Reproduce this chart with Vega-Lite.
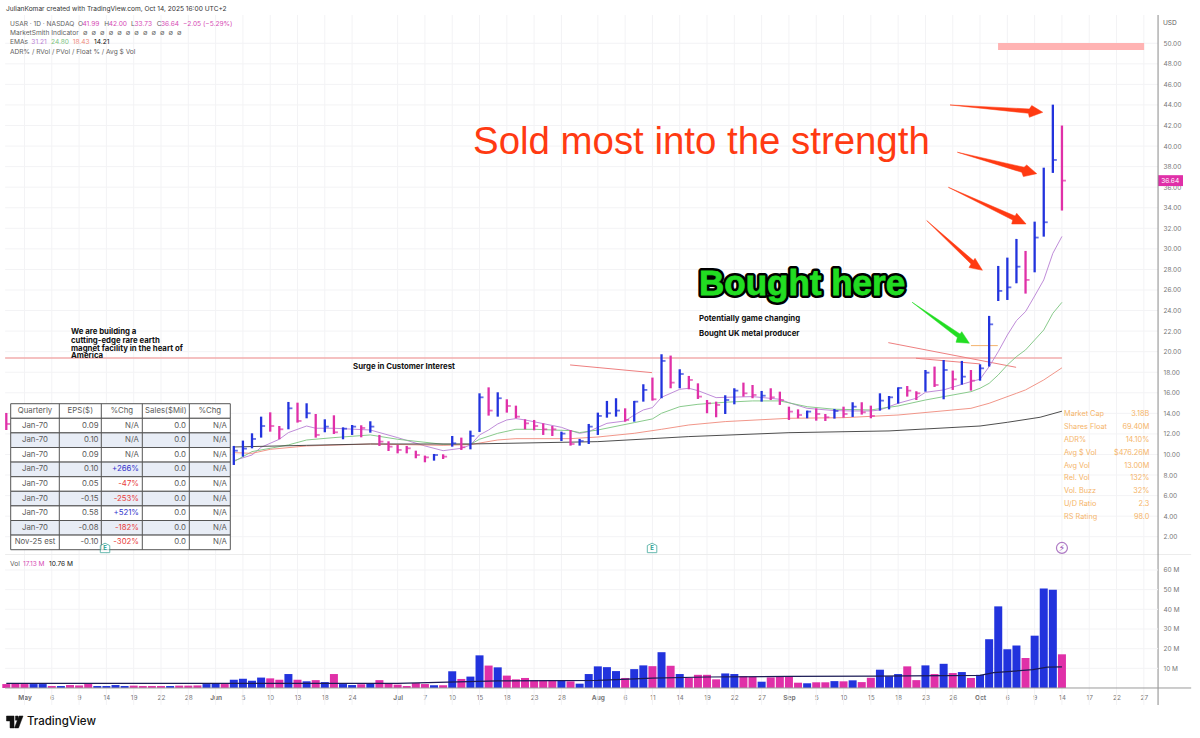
{
"$schema":"https://vega.github.io/schema/vega-lite/v6.json",
"width":1200,"height":738,"padding":0,"autosize":{"type":"none"},"background":"#ffffff",
"config":{"font":"Inter","view":{"stroke":null}},
"datasets":{
"price":[
{"i":-2,"h":14.04,"l":12.38,"c":12.97,"s":"down"},
{"i":23,"h":10.83,"l":8.98,"c":10.37,"s":"up"},{"i":24,"h":11.35,"l":9.79,"c":10.57,"s":"up"},{"i":25,"h":12.06,"l":10.6,"c":11.51,"s":"up"},{"i":26,"h":13.68,"l":11.64,"c":12.77,"s":"up"},{"i":27,"h":14.1,"l":12.22,"c":12.77,"s":"down"},{"i":28,"h":12.77,"l":11.48,"c":12.45,"s":"down"},{"i":29,"h":15.11,"l":12.45,"c":14.49,"s":"up"},{"i":30,"h":15.04,"l":13.1,"c":13.26,"s":"down"},{"i":31,"h":14.98,"l":13.52,"c":14.01,"s":"up"},{"i":32,"h":13.94,"l":11.64,"c":11.9,"s":"down"},{"i":33,"h":13.42,"l":12.16,"c":12.71,"s":"up"},{"i":34,"h":13.81,"l":11.99,"c":12.16,"s":"down"},{"i":35,"h":12.64,"l":11.48,"c":12.51,"s":"up"},{"i":36,"h":12.87,"l":11.9,"c":12.71,"s":"up"},{"i":37,"h":12.84,"l":11.67,"c":12.58,"s":"down"},{"i":38,"h":13.23,"l":12.12,"c":12.71,"s":"up"},{"i":39,"h":11.9,"l":10.83,"c":11.25,"s":"down"},{"i":40,"h":11.28,"l":10.34,"c":10.76,"s":"down"},{"i":41,"h":10.92,"l":10.11,"c":10.44,"s":"down"},{"i":42,"h":10.83,"l":10.11,"c":10.6,"s":"down"},{"i":43,"h":10.37,"l":9.63,"c":9.95,"s":"down"},{"i":44,"h":9.89,"l":9.24,"c":9.72,"s":"down"},{"i":45,"h":10.05,"l":9.4,"c":9.95,"s":"up"},{"i":46,"h":10.02,"l":9.56,"c":9.79,"s":"down"},{"i":47,"h":11.8,"l":10.76,"c":11.09,"s":"up"},{"i":48,"h":11.64,"l":10.44,"c":10.7,"s":"down"},{"i":49,"h":12.32,"l":10.5,"c":11.8,"s":"up"},{"i":50,"h":15.95,"l":12.19,"c":15.56,"s":"up"},{"i":51,"h":16.53,"l":13.78,"c":14.27,"s":"down"},{"i":52,"h":16.05,"l":13.68,"c":15.47,"s":"up"},{"i":53,"h":15.37,"l":14.07,"c":14.72,"s":"down"},{"i":54,"h":14.75,"l":13.52,"c":13.68,"s":"down"},{"i":55,"h":13.42,"l":12.45,"c":13.03,"s":"down"},{"i":56,"h":13.36,"l":12.35,"c":12.77,"s":"down"},{"i":57,"h":13.03,"l":11.9,"c":12.45,"s":"down"},{"i":58,"h":12.77,"l":11.8,"c":12.45,"s":"down"},{"i":59,"h":12.22,"l":11.31,"c":12.03,"s":"up"},{"i":60,"h":12.38,"l":10.86,"c":11.02,"s":"down"},{"i":61,"h":11.51,"l":10.86,"c":11.31,"s":"up"},{"i":62,"h":12.97,"l":11.02,"c":12.71,"s":"up"},{"i":63,"h":14.07,"l":11.9,"c":13.75,"s":"up"},{"i":64,"h":15.21,"l":13.58,"c":14.01,"s":"up"},{"i":65,"h":15.47,"l":13.68,"c":14.27,"s":"up"},{"i":66,"h":14.49,"l":13.19,"c":13.36,"s":"down"},{"i":67,"h":15.21,"l":13.19,"c":15.14,"s":"up"},{"i":68,"h":16.83,"l":15.14,"c":16.28,"s":"up"},{"i":69,"h":17.48,"l":15.24,"c":15.37,"s":"down"},{"i":70,"h":19.75,"l":15.47,"c":19.1,"s":"up"},{"i":71,"h":19.62,"l":16.44,"c":16.99,"s":"down"},{"i":72,"h":18.29,"l":16.44,"c":17.83,"s":"up"},{"i":73,"h":17.64,"l":16.34,"c":17.25,"s":"down"},{"i":74,"h":16.92,"l":15.4,"c":15.63,"s":"down"},{"i":75,"h":15.3,"l":14.01,"c":14.98,"s":"down"},{"i":76,"h":15.14,"l":13.62,"c":14.82,"s":"down"},{"i":77,"h":15.76,"l":13.94,"c":15.3,"s":"up"},{"i":78,"h":16.44,"l":14.88,"c":16.21,"s":"up"},{"i":79,"h":16.99,"l":15.63,"c":15.95,"s":"down"},{"i":80,"h":16.76,"l":15.47,"c":15.79,"s":"down"},{"i":81,"h":16.18,"l":15.14,"c":15.72,"s":"up"},{"i":82,"h":16.44,"l":15.3,"c":15.56,"s":"down"},{"i":83,"h":16.11,"l":14.82,"c":15.3,"s":"down"},{"i":84,"h":14.65,"l":13.36,"c":14.17,"s":"down"},{"i":85,"h":14.39,"l":13.52,"c":13.84,"s":"down"},{"i":86,"h":14.27,"l":13.52,"c":14.17,"s":"up"},{"i":87,"h":14.49,"l":13.29,"c":13.94,"s":"down"},{"i":88,"h":13.94,"l":13.26,"c":13.62,"s":"down"},{"i":89,"h":14.43,"l":13.49,"c":14.23,"s":"up"},{"i":90,"h":14.65,"l":13.58,"c":13.94,"s":"down"},{"i":91,"h":15.08,"l":13.65,"c":14.65,"s":"up"},{"i":92,"h":15.08,"l":13.88,"c":14.1,"s":"down"},{"i":93,"h":14.75,"l":13.52,"c":13.75,"s":"down"},{"i":94,"h":15.95,"l":14.27,"c":15.24,"s":"up"},{"i":95,"h":15.69,"l":14.39,"c":15.56,"s":"up"},{"i":96,"h":16.53,"l":14.95,"c":16.47,"s":"up"},{"i":97,"h":16.66,"l":15.63,"c":16.21,"s":"down"},{"i":98,"h":16.15,"l":15.3,"c":15.95,"s":"down"},{"i":99,"h":18.22,"l":16.11,"c":17.96,"s":"up"},{"i":100,"h":18.55,"l":16.57,"c":16.76,"s":"down"},{"i":101,"h":19.19,"l":15.37,"c":18.22,"s":"up"},{"i":102,"h":18.16,"l":16.28,"c":17.31,"s":"down"},{"i":103,"h":19.1,"l":16.79,"c":17.57,"s":"up"},{"i":104,"h":18.22,"l":16.21,"c":17.18,"s":"down"},{"i":105,"h":18.77,"l":17.18,"c":18.38,"s":"up"},{"i":106,"h":23.48,"l":18.55,"c":22.66,"s":"up"},{"i":107,"h":28.34,"l":24.93,"c":25.91,"s":"up"},{"i":108,"h":29.15,"l":25.03,"c":26.26,"s":"up"},{"i":109,"h":30.97,"l":26.65,"c":28.27,"s":"up"},{"i":110,"h":29.8,"l":25.65,"c":26.98,"s":"down"},{"i":111,"h":32.65,"l":27.72,"c":31.1,"s":"up"},{"i":112,"h":37.9,"l":31.19,"c":32.59,"s":"up"},{"i":113,"h":44.03,"l":37.39,"c":38.65,"s":"up"},{"i":114,"h":42,"l":33.73,"c":36.64,"s":"down"}],
"vol":[
{"i":-2,"v":2,"s":"down"},{"i":-1,"v":2,"s":"down"},{"i":0,"v":2,"s":"down"},{"i":1,"v":2,"s":"up"},{"i":2,"v":2,"s":"up"},{"i":3,"v":1,"s":"down"},{"i":4,"v":1,"s":"up"},{"i":5,"v":1.5,"s":"down"},{"i":6,"v":1.3,"s":"down"},{"i":7,"v":2,"s":"down"},{"i":8,"v":1,"s":"up"},{"i":9,"v":1,"s":"up"},{"i":10,"v":1.5,"s":"up"},{"i":11,"v":1,"s":"up"},{"i":12,"v":1.2,"s":"down"},{"i":13,"v":1,"s":"down"},{"i":14,"v":1,"s":"down"},{"i":15,"v":1,"s":"down"},{"i":16,"v":1,"s":"up"},{"i":17,"v":1.2,"s":"down"},{"i":18,"v":1.2,"s":"down"},{"i":19,"v":1.3,"s":"down"},{"i":20,"v":2,"s":"up"},{"i":21,"v":2.4,"s":"up"},{"i":22,"v":2,"s":"down"},{"i":23,"v":4.2,"s":"up"},{"i":24,"v":4.7,"s":"up"},{"i":25,"v":3.7,"s":"up"},{"i":26,"v":5.3,"s":"up"},{"i":27,"v":4.9,"s":"down"},{"i":28,"v":4.2,"s":"down"},{"i":29,"v":7.1,"s":"up"},{"i":30,"v":4.2,"s":"down"},{"i":31,"v":3.4,"s":"up"},{"i":32,"v":4,"s":"down"},{"i":33,"v":3,"s":"up"},{"i":34,"v":7.1,"s":"down"},{"i":35,"v":2,"s":"up"},{"i":36,"v":1.5,"s":"up"},{"i":37,"v":1.9,"s":"down"},{"i":38,"v":2.2,"s":"up"},{"i":39,"v":4,"s":"down"},{"i":40,"v":2.5,"s":"down"},{"i":41,"v":1.7,"s":"down"},{"i":42,"v":1,"s":"down"},{"i":43,"v":2.5,"s":"down"},{"i":44,"v":2,"s":"down"},{"i":45,"v":1.4,"s":"up"},{"i":46,"v":1.4,"s":"down"},{"i":47,"v":8.5,"s":"up"},{"i":48,"v":4.6,"s":"down"},{"i":49,"v":5.8,"s":"up"},{"i":50,"v":16.6,"s":"up"},{"i":51,"v":11.4,"s":"down"},{"i":52,"v":10.5,"s":"up"},{"i":53,"v":6.3,"s":"down"},{"i":54,"v":4.4,"s":"down"},{"i":55,"v":5.1,"s":"down"},{"i":56,"v":3.9,"s":"down"},{"i":57,"v":3.9,"s":"down"},{"i":58,"v":3.9,"s":"down"},{"i":59,"v":3.9,"s":"up"},{"i":60,"v":3.4,"s":"down"},{"i":61,"v":2.2,"s":"up"},{"i":62,"v":7.1,"s":"up"},{"i":63,"v":11,"s":"up"},{"i":64,"v":10.6,"s":"up"},{"i":65,"v":8.6,"s":"up"},{"i":66,"v":5.1,"s":"down"},{"i":67,"v":9.6,"s":"up"},{"i":68,"v":11.5,"s":"up"},{"i":69,"v":11.1,"s":"down"},{"i":70,"v":18.2,"s":"up"},{"i":71,"v":11.3,"s":"down"},{"i":72,"v":7.1,"s":"up"},{"i":73,"v":5.1,"s":"down"},{"i":74,"v":6.7,"s":"down"},{"i":75,"v":6.7,"s":"down"},{"i":76,"v":4.4,"s":"down"},{"i":77,"v":7.4,"s":"up"},{"i":78,"v":7.1,"s":"up"},{"i":79,"v":6,"s":"down"},{"i":80,"v":5.7,"s":"down"},{"i":81,"v":3.2,"s":"up"},{"i":82,"v":5.4,"s":"down"},{"i":83,"v":5.7,"s":"down"},{"i":84,"v":6,"s":"down"},{"i":85,"v":2.7,"s":"down"},{"i":86,"v":2.4,"s":"up"},{"i":87,"v":2.9,"s":"down"},{"i":88,"v":2.9,"s":"down"},{"i":89,"v":3.5,"s":"up"},{"i":90,"v":3.4,"s":"down"},{"i":91,"v":3.9,"s":"up"},{"i":92,"v":3,"s":"down"},{"i":93,"v":5.2,"s":"down"},{"i":94,"v":9.3,"s":"up"},{"i":95,"v":6,"s":"up"},{"i":96,"v":7.1,"s":"up"},{"i":97,"v":11,"s":"down"},{"i":98,"v":4,"s":"down"},{"i":99,"v":11.5,"s":"up"},{"i":100,"v":7.1,"s":"down"},{"i":101,"v":12.3,"s":"up"},{"i":102,"v":7.6,"s":"down"},{"i":103,"v":8.1,"s":"up"},{"i":104,"v":5.1,"s":"down"},{"i":105,"v":6.7,"s":"up"},{"i":106,"v":24.8,"s":"up"},{"i":107,"v":41.5,"s":"up"},{"i":108,"v":19.7,"s":"up"},{"i":109,"v":21.6,"s":"up"},{"i":110,"v":15.2,"s":"down"},{"i":111,"v":26.6,"s":"up"},{"i":112,"v":50.6,"s":"up"},{"i":113,"v":49.9,"s":"up"},{"i":114,"v":17.13,"s":"down"}],
"volma":[{"i":-2,"v":2.4,"s":"volma"},{"i":41,"v":2.4,"s":"volma"},{"i":52,"v":3.6,"s":"volma"},{"i":63,"v":3.9,"s":"volma"},{"i":69,"v":5,"s":"volma"},{"i":75,"v":5.6,"s":"volma"},{"i":84,"v":5.9,"s":"volma"},{"i":93.5,"v":6,"s":"volma"},{"i":105,"v":6.4,"s":"volma"},{"i":106.5,"v":7.8,"s":"volma"},{"i":110.8,"v":9.3,"s":"volma"},{"i":112.4,"v":10.6,"s":"volma"},{"i":114,"v":10.76,"s":"volma"}],
"emas":[
{"i":23,"price":9.4,"s":"ema10"},{"i":25,"price":9.95,"s":"ema10"},{"i":26,"price":10.7,"s":"ema10"},{"i":27,"price":11.09,"s":"ema10"},{"i":28,"price":11.48,"s":"ema10"},{"i":29,"price":12.13,"s":"ema10"},{"i":31,"price":12.77,"s":"ema10"},{"i":32,"price":12.55,"s":"ema10"},{"i":34,"price":12.55,"s":"ema10"},{"i":38,"price":12.38,"s":"ema10"},{"i":41,"price":11.64,"s":"ema10"},{"i":44,"price":10.83,"s":"ema10"},{"i":46,"price":10.37,"s":"ema10"},{"i":48,"price":10.6,"s":"ema10"},{"i":49,"price":10.92,"s":"ema10"},{"i":50,"price":11.9,"s":"ema10"},{"i":51,"price":12.38,"s":"ema10"},{"i":52,"price":12.97,"s":"ema10"},{"i":53,"price":13.36,"s":"ema10"},{"i":54,"price":13.49,"s":"ema10"},{"i":55,"price":13.36,"s":"ema10"},{"i":59,"price":12.64,"s":"ema10"},{"i":60,"price":12.32,"s":"ema10"},{"i":61,"price":12.06,"s":"ema10"},{"i":62,"price":12.22,"s":"ema10"},{"i":63,"price":12.64,"s":"ema10"},{"i":64,"price":13.03,"s":"ema10"},{"i":66,"price":13.26,"s":"ema10"},{"i":67,"price":13.84,"s":"ema10"},{"i":68,"price":14.33,"s":"ema10"},{"i":69,"price":14.56,"s":"ema10"},{"i":70,"price":15.56,"s":"ema10"},{"i":72,"price":16.34,"s":"ema10"},{"i":73,"price":16.44,"s":"ema10"},{"i":74,"price":16.21,"s":"ema10"},{"i":76,"price":15.53,"s":"ema10"},{"i":77,"price":15.56,"s":"ema10"},{"i":80,"price":15.63,"s":"ema10"},{"i":83,"price":15.37,"s":"ema10"},{"i":84,"price":15.04,"s":"ema10"},{"i":86,"price":14.49,"s":"ema10"},{"i":89,"price":14.27,"s":"ema10"},{"i":91,"price":14.23,"s":"ema10"},{"i":93,"price":14.23,"s":"ema10"},{"i":94,"price":14.33,"s":"ema10"},{"i":96,"price":14.98,"s":"ema10"},{"i":98,"price":15.47,"s":"ema10"},{"i":99,"price":16.05,"s":"ema10"},{"i":101,"price":16.28,"s":"ema10"},{"i":104,"price":17.09,"s":"ema10"},{"i":105,"price":17.32,"s":"ema10"},{"i":106,"price":18.55,"s":"ema10"},{"i":107,"price":20,"s":"ema10"},{"i":108,"price":21.62,"s":"ema10"},{"i":109,"price":23.02,"s":"ema10"},{"i":110,"price":23.9,"s":"ema10"},{"i":111,"price":25.42,"s":"ema10"},{"i":112,"price":26.98,"s":"ema10"},{"i":113,"price":29.57,"s":"ema10"},{"i":114,"price":31.21,"s":"ema10"},
{"i":23,"price":9.3,"s":"ema20"},{"i":25,"price":10.28,"s":"ema20"},{"i":27,"price":10.6,"s":"ema20"},{"i":29,"price":10.93,"s":"ema20"},{"i":31,"price":11.41,"s":"ema20"},{"i":34,"price":11.64,"s":"ema20"},{"i":38,"price":11.9,"s":"ema20"},{"i":41,"price":11.48,"s":"ema20"},{"i":46,"price":10.99,"s":"ema20"},{"i":49,"price":10.99,"s":"ema20"},{"i":50,"price":11.48,"s":"ema20"},{"i":52,"price":12.06,"s":"ema20"},{"i":54,"price":12.45,"s":"ema20"},{"i":56,"price":12.45,"s":"ema20"},{"i":60,"price":12.32,"s":"ema20"},{"i":61,"price":12.13,"s":"ema20"},{"i":63,"price":12.38,"s":"ema20"},{"i":67,"price":13.1,"s":"ema20"},{"i":69,"price":13.46,"s":"ema20"},{"i":70,"price":14.01,"s":"ema20"},{"i":72,"price":14.65,"s":"ema20"},{"i":74,"price":14.88,"s":"ema20"},{"i":77,"price":15.08,"s":"ema20"},{"i":80,"price":15.21,"s":"ema20"},{"i":83,"price":15.21,"s":"ema20"},{"i":86,"price":14.65,"s":"ema20"},{"i":89,"price":14.4,"s":"ema20"},{"i":93,"price":14.33,"s":"ema20"},{"i":96,"price":14.72,"s":"ema20"},{"i":99,"price":15.3,"s":"ema20"},{"i":104,"price":16.11,"s":"ema20"},{"i":105,"price":16.44,"s":"ema20"},{"i":106,"price":16.92,"s":"ema20"},{"i":107,"price":17.74,"s":"ema20"},{"i":108,"price":18.71,"s":"ema20"},{"i":109,"price":19.52,"s":"ema20"},{"i":110,"price":20.17,"s":"ema20"},{"i":111,"price":21.14,"s":"ema20"},{"i":112,"price":22.11,"s":"ema20"},{"i":113,"price":23.73,"s":"ema20"},{"i":114,"price":24.8,"s":"ema20"},
{"i":23,"price":10.18,"s":"ema50"},{"i":25,"price":10.11,"s":"ema50"},{"i":27,"price":10.5,"s":"ema50"},{"i":31,"price":10.83,"s":"ema50"},{"i":38,"price":11.02,"s":"ema50"},{"i":46,"price":10.89,"s":"ema50"},{"i":49,"price":10.96,"s":"ema50"},{"i":52,"price":11.41,"s":"ema50"},{"i":54,"price":11.54,"s":"ema50"},{"i":60,"price":11.54,"s":"ema50"},{"i":63,"price":11.7,"s":"ema50"},{"i":67,"price":12.06,"s":"ema50"},{"i":70,"price":12.45,"s":"ema50"},{"i":73,"price":12.87,"s":"ema50"},{"i":77,"price":13.2,"s":"ema50"},{"i":84,"price":13.52,"s":"ema50"},{"i":90,"price":13.58,"s":"ema50"},{"i":96,"price":13.84,"s":"ema50"},{"i":104,"price":14.49,"s":"ema50"},{"i":106,"price":14.98,"s":"ema50"},{"i":109,"price":15.95,"s":"ema50"},{"i":110,"price":16.28,"s":"ema50"},{"i":112,"price":17.25,"s":"ema50"},{"i":114,"price":18.43,"s":"ema50"},
{"i":23,"price":10.73,"s":"ema200"},{"i":31,"price":10.89,"s":"ema200"},{"i":38,"price":11.02,"s":"ema200"},{"i":49,"price":11.02,"s":"ema200"},{"i":63,"price":11.25,"s":"ema200"},{"i":73,"price":11.74,"s":"ema200"},{"i":84,"price":12.12,"s":"ema200"},{"i":95,"price":12.29,"s":"ema200"},{"i":105,"price":12.77,"s":"ema200"},{"i":108,"price":13.13,"s":"ema200"},{"i":111.6,"price":13.62,"s":"ema200"},{"i":114,"price":14.21,"s":"ema200"}],
"xticks":[{"i":0,"price":52.75,"price2":-14.37},{"i":3,"price":52.75,"price2":-14.37},{"i":6,"price":52.75,"price2":-14.37},{"i":9,"price":52.75,"price2":-14.37},{"i":12,"price":52.75,"price2":-14.37},{"i":15,"price":52.75,"price2":-14.37},{"i":18,"price":52.75,"price2":-14.37},{"i":21,"price":52.75,"price2":-14.37},{"i":24,"price":52.75,"price2":-14.37},{"i":27,"price":52.75,"price2":-14.37},{"i":30,"price":52.75,"price2":-14.37},{"i":33,"price":52.75,"price2":-14.37},{"i":36,"price":52.75,"price2":-14.37},{"i":41,"price":52.75,"price2":-14.37},{"i":44,"price":52.75,"price2":-14.37},{"i":47,"price":52.75,"price2":-14.37},{"i":50,"price":52.75,"price2":-14.37},{"i":53,"price":52.75,"price2":-14.37},{"i":56,"price":52.75,"price2":-14.37},{"i":59,"price":52.75,"price2":-14.37},{"i":63,"price":52.75,"price2":-14.37},{"i":66,"price":52.75,"price2":-14.37},{"i":69,"price":52.75,"price2":-14.37},{"i":72,"price":52.75,"price2":-14.37},{"i":75,"price":52.75,"price2":-14.37},{"i":78,"price":52.75,"price2":-14.37},{"i":81,"price":52.75,"price2":-14.37},{"i":84,"price":52.75,"price2":-14.37},{"i":87,"price":52.75,"price2":-14.37},{"i":90,"price":52.75,"price2":-14.37},{"i":93,"price":52.75,"price2":-14.37},{"i":96,"price":52.75,"price2":-14.37},{"i":99,"price":52.75,"price2":-14.37},{"i":102,"price":52.75,"price2":-14.37},{"i":105,"price":52.75,"price2":-14.37},{"i":108,"price":52.75,"price2":-14.37},{"i":111,"price":52.75,"price2":-14.37},{"i":114,"price":52.75,"price2":-14.37},{"i":117,"price":52.75,"price2":-14.37},{"i":120,"price":52.75,"price2":-14.37},{"i":123,"price":52.75,"price2":-14.37}],
"pticks":[{"price":2,"i":-2.13,"i2":124.56},{"price":4,"i":-2.13,"i2":124.56},{"price":6,"i":-2.13,"i2":124.56},{"price":8,"i":-2.13,"i2":124.56},{"price":10,"i":-2.13,"i2":124.56},{"price":12,"i":-2.13,"i2":124.56},{"price":14,"i":-2.13,"i2":124.56},{"price":16,"i":-2.13,"i2":124.56},{"price":18,"i":-2.13,"i2":124.56},{"price":20,"i":-2.13,"i2":124.56},{"price":22,"i":-2.13,"i2":124.56},{"price":24,"i":-2.13,"i2":124.56},{"price":26,"i":-2.13,"i2":124.56},{"price":28,"i":-2.13,"i2":124.56},{"price":30,"i":-2.13,"i2":124.56},{"price":32,"i":-2.13,"i2":124.56},{"price":34,"i":-2.13,"i2":124.56},{"price":36,"i":-2.13,"i2":124.56},{"price":38,"i":-2.13,"i2":124.56},{"price":40,"i":-2.13,"i2":124.56},{"price":42,"i":-2.13,"i2":124.56},{"price":44,"i":-2.13,"i2":124.56},{"price":46,"i":-2.13,"i2":124.56},{"price":48,"i":-2.13,"i2":124.56},{"price":50,"i":-2.13,"i2":124.56}],
"vticks":[{"v":10,"i":-2.13,"i2":124.56},{"v":20,"i":-2.13,"i2":124.56},{"v":30,"i":-2.13,"i2":124.56},{"v":40,"i":-2.13,"i2":124.56},{"v":50,"i":-2.13,"i2":124.56},{"v":60,"i":-2.13,"i2":124.56}],
"segments":[
{"i":59.95,"i2":68.96,"price":18.71,"price2":17.96,"s":"trend"},{"i":94.92,"i2":108.96,"price":20.88,"price2":18.48,"s":"trend"},{"i":97.96,"i2":105,"price":19.36,"price2":18.81,"s":"trend"},{"i":104,"i2":106.95,"price":20.59,"price2":20.59,"s":"entry"}],
"polys":[
{"a":"a1","n":1,"i":101.7,"price":44,"s":"sold"},{"a":"a1","n":2,"i":110.42,"price":43.61,"s":"sold"},{"a":"a1","n":3,"i":110.68,"price":43.94,"s":"sold"},{"a":"a1","n":4,"i":111.89,"price":43.29,"s":"sold"},{"a":"a1","n":5,"i":110.42,"price":42.8,"s":"sold"},{"a":"a1","n":6,"i":110.31,"price":43.19,"s":"sold"},{"a":"a1","n":7,"i":101.7,"price":44,"s":"sold"},
{"a":"a2","n":1,"i":102.51,"price":39.4,"s":"sold"},{"a":"a2","n":2,"i":109.84,"price":37.94,"s":"sold"},{"a":"a2","n":3,"i":110.13,"price":38.16,"s":"sold"},{"a":"a2","n":4,"i":111.23,"price":37.32,"s":"sold"},{"a":"a2","n":5,"i":109.76,"price":37.03,"s":"sold"},{"a":"a2","n":6,"i":109.58,"price":37.45,"s":"sold"},{"a":"a2","n":7,"i":102.51,"price":39.4,"s":"sold"},
{"a":"a3","n":1,"i":101.52,"price":35.99,"s":"sold"},{"a":"a3","n":2,"i":108.85,"price":33.2,"s":"sold"},{"a":"a3","n":3,"i":109.03,"price":33.46,"s":"sold"},{"a":"a3","n":4,"i":110.06,"price":32.42,"s":"sold"},{"a":"a3","n":5,"i":108.48,"price":32.42,"s":"sold"},{"a":"a3","n":6,"i":108.59,"price":32.81,"s":"sold"},{"a":"a3","n":7,"i":101.52,"price":35.99,"s":"sold"},
{"a":"a4","n":1,"i":99.14,"price":32.75,"s":"sold"},{"a":"a4","n":2,"i":104.27,"price":28.86,"s":"sold"},{"a":"a4","n":3,"i":104.45,"price":29.08,"s":"sold"},{"a":"a4","n":4,"i":105.26,"price":27.92,"s":"sold"},{"a":"a4","n":5,"i":103.79,"price":28.18,"s":"sold"},{"a":"a4","n":6,"i":104.01,"price":28.53,"s":"sold"},{"a":"a4","n":7,"i":99.14,"price":32.75,"s":"sold"},
{"a":"g1","n":1,"i":97.53,"price":24.81,"s":"bought"},{"a":"g1","n":2,"i":102.8,"price":21.72,"s":"bought"},{"a":"g1","n":3,"i":102.99,"price":21.95,"s":"bought"},{"a":"g1","n":4,"i":103.83,"price":20.82,"s":"bought"},{"a":"g1","n":5,"i":102.36,"price":20.91,"s":"bought"},{"a":"g1","n":6,"i":102.51,"price":21.37,"s":"bought"},{"a":"g1","n":7,"i":97.53,"price":24.81,"s":"bought"},
{"a":"l1","n":1,"i":-1.98,"price":-15.44,"s":"logo"},{"a":"l1","n":2,"i":-1.15,"price":-15.44,"s":"logo"},{"a":"l1","n":3,"i":-1.15,"price":-16.6,"s":"logo"},{"a":"l1","n":4,"i":-1.59,"price":-16.6,"s":"logo"},{"a":"l1","n":5,"i":-1.59,"price":-15.92,"s":"logo"},{"a":"l1","n":6,"i":-1.98,"price":-15.92,"s":"logo"},{"a":"l1","n":7,"i":-1.98,"price":-15.44,"s":"logo"},
{"a":"l2","n":1,"i":-0.6,"price":-15.44,"s":"logo"},{"a":"l2","n":2,"i":-0.16,"price":-15.44,"s":"logo"},{"a":"l2","n":3,"i":-0.66,"price":-16.6,"s":"logo"},{"a":"l2","n":4,"i":-1.1,"price":-16.6,"s":"logo"},{"a":"l2","n":5,"i":-0.6,"price":-15.44,"s":"logo"},
{"a":"l3","n":1,"i":-0.99,"price":-15.44,"s":"logo"},{"a":"l3","n":2,"i":-0.71,"price":-15.44,"s":"logo"},{"a":"l3","n":3,"i":-0.71,"price":-15.85,"s":"logo"},{"a":"l3","n":4,"i":-0.99,"price":-15.85,"s":"logo"},{"a":"l3","n":5,"i":-0.99,"price":-15.44,"s":"logo"}],
"boxes":[{"i":106.98,"i2":123.03,"price":50.03,"price2":49.35,"s":"target"},{"i":124.56,"i2":127.3,"price":37.17,"price2":36.11,"s":"down"}],
"small":[
{"i":-2.03,"price":53.34,"text":"JulianKomar created with TradingView.com, Oct 14, 2025 16:00 UTC+2","s":"head"},
{"i":-1.59,"price":51.92,"text":"USAR · 1D · NASDAQ","s":"muted"},
{"i":5.88,"price":51.92,"text":"O","s":"muted"},{"i":6.37,"price":51.92,"text":"41.99","s":"quote"},
{"i":8.77,"price":51.92,"text":"H","s":"muted"},{"i":9.25,"price":51.92,"text":"42.00","s":"quote"},
{"i":11.7,"price":51.92,"text":"L","s":"muted"},{"i":12.09,"price":51.92,"text":"33.73","s":"quote"},
{"i":14.53,"price":51.92,"text":"C","s":"muted"},{"i":15,"price":51.92,"text":"36.64","s":"quote"},
{"i":17.42,"price":51.92,"text":"−2.05 (−5.29%)","s":"quote"},
{"i":-1.59,"price":51,"text":"MarketSmith Indicator","s":"muted"},
{"i":6.43,"price":51,"text":"∅","s":"muted"},{"i":7.37,"price":51,"text":"∅","s":"muted"},{"i":8.31,"price":51,"text":"∅","s":"muted"},{"i":9.25,"price":51,"text":"∅","s":"muted"},{"i":10.19,"price":51,"text":"∅","s":"muted"},{"i":11.13,"price":51,"text":"∅","s":"muted"},{"i":12.07,"price":51,"text":"∅","s":"muted"},{"i":13.01,"price":51,"text":"∅","s":"muted"},{"i":13.95,"price":51,"text":"∅","s":"muted"},{"i":14.89,"price":51,"text":"∅","s":"muted"},{"i":15.83,"price":51,"text":"∅","s":"muted"},{"i":16.77,"price":51,"text":"∅","s":"muted"},
{"i":-1.59,"price":50.13,"text":"EMAs","s":"muted"},
{"i":0.75,"price":50.13,"text":"31.21","s":"ema10"},{"i":2.91,"price":50.13,"text":"24.80","s":"ema20"},{"i":5.3,"price":50.13,"text":"18.43","s":"ema50"},{"i":7.64,"price":50.13,"text":"14.21","s":"note"},
{"i":-1.59,"price":49.2,"text":"ADR% / RVol / PVol / Float % / Avg $ Vol","s":"muted"},
{"i":-1.59,"price":-0.65,"text":"Vol","s":"muted"},{"i":-0.16,"price":-0.65,"text":"17.13 M","s":"quote"},{"i":2.69,"price":-0.65,"text":"10.76 M","s":"note"},
{"i":125.1,"price":51.98,"text":"USD","s":"muted"},
{"i":124.9,"price":36.64,"text":"36.64","s":"onTag"}],
"stats":[{"i":114.23,"price":13.94,"text":"Market Cap","s":"stat"},{"i":114.23,"price":12.67,"text":"Shares Float","s":"stat"},{"i":114.23,"price":11.41,"text":"ADR%","s":"stat"},{"i":114.23,"price":10.15,"text":"Avg $ Vol","s":"stat"},{"i":114.23,"price":8.88,"text":"Avg Vol","s":"stat"},{"i":114.23,"price":7.72,"text":"Rel. Vol","s":"stat"},{"i":114.23,"price":6.45,"text":"Vol. Buzz","s":"stat"},{"i":114.23,"price":5.19,"text":"U/D Ratio","s":"stat"},{"i":114.23,"price":3.92,"text":"RS Rating","s":"stat"}],
"statValues":[{"i":123.6,"price":13.94,"text":"3.18B","s":"stat"},{"i":123.6,"price":12.67,"text":"69.40M","s":"stat"},{"i":123.6,"price":11.41,"text":"14.10%","s":"stat"},{"i":123.6,"price":10.15,"text":"$476.26M","s":"stat"},{"i":123.6,"price":8.88,"text":"13.00M","s":"stat"},{"i":123.6,"price":7.72,"text":"132%","s":"stat"},{"i":123.6,"price":6.45,"text":"32%","s":"stat"},{"i":123.6,"price":5.19,"text":"2.3","s":"stat"},{"i":123.6,"price":3.92,"text":"98.0","s":"stat"}],
"notes":[
{"i":5.11,"price":21.92,"text":"We are building a","s":"note"},{"i":5.11,"price":21.04,"text":"cutting-edge rare earth","s":"note"},{"i":5.11,"price":20.26,"text":"magnet facility in the heart of","s":"note"},{"i":5.11,"price":19.58,"text":"America","s":"note"},
{"i":36.1,"price":18.51,"text":"Surge in Customer Interest","s":"note"},{"i":74.12,"price":23.18,"text":"Potentially game changing","s":"note"},{"i":74.12,"price":21.72,"text":"Bought UK metal producer","s":"note"}],
"badges":[{"i":8.85,"price":0.91,"text":"E","s":"earn"},{"i":68.96,"price":0.91,"text":"E","s":"earn"}],
"tableRows":[{"i":-1.516,"i2":22.615,"row":0,"rowEnd":1,"s":"plain"},{"i":-1.516,"i2":22.615,"row":1,"rowEnd":2,"s":"plain"},{"i":-1.516,"i2":22.615,"row":2,"rowEnd":3,"s":"shade"},{"i":-1.516,"i2":22.615,"row":3,"rowEnd":4,"s":"plain"},{"i":-1.516,"i2":22.615,"row":4,"rowEnd":5,"s":"shade"},{"i":-1.516,"i2":22.615,"row":5,"rowEnd":6,"s":"plain"},{"i":-1.516,"i2":22.615,"row":6,"rowEnd":7,"s":"shade"},{"i":-1.516,"i2":22.615,"row":7,"rowEnd":8,"s":"plain"},{"i":-1.516,"i2":22.615,"row":8,"rowEnd":9,"s":"shade"},{"i":-1.516,"i2":22.615,"row":9,"rowEnd":10,"s":"plain"}],
"tableCols":[{"i":3.824,"row":0,"rowEnd":10},{"i":8.44,"row":0,"rowEnd":10},{"i":12.945,"row":0,"rowEnd":10},{"i":18.11,"row":0,"rowEnd":10}],
"tableCenter":[{"i":1.154,"rowc":0.5,"text":"Quarterly","s":"cell"},{"i":6.13,"rowc":0.5,"text":"EPS($)","s":"cell"},{"i":10.69,"rowc":0.5,"text":"%Chg","s":"cell"},{"i":15.53,"rowc":0.5,"text":"Sales($Mil)","s":"cell"},{"i":20.36,"rowc":0.5,"text":"%Chg","s":"cell"},
{"i":1.154,"rowc":1.5,"text":"Jan-70","s":"cell"},{"i":1.154,"rowc":2.5,"text":"Jan-70","s":"cell"},{"i":1.154,"rowc":3.5,"text":"Jan-70","s":"cell"},{"i":1.154,"rowc":4.5,"text":"Jan-70","s":"cell"},{"i":1.154,"rowc":5.5,"text":"Jan-70","s":"cell"},{"i":1.154,"rowc":6.5,"text":"Jan-70","s":"cell"},{"i":1.154,"rowc":7.5,"text":"Jan-70","s":"cell"},{"i":1.154,"rowc":8.5,"text":"Jan-70","s":"cell"},{"i":1.154,"rowc":9.5,"text":"Nov-25 est","s":"cell"}],
"tableRight":[
{"i":8.13,"rowc":1.5,"text":"0.09","s":"cell"},{"i":12.58,"rowc":1.5,"text":"N/A","s":"cell"},{"i":17.75,"rowc":1.5,"text":"0.0","s":"cell"},{"i":22.25,"rowc":1.5,"text":"N/A","s":"cell"},
{"i":8.13,"rowc":2.5,"text":"0.10","s":"cell"},{"i":12.58,"rowc":2.5,"text":"N/A","s":"cell"},{"i":17.75,"rowc":2.5,"text":"0.0","s":"cell"},{"i":22.25,"rowc":2.5,"text":"N/A","s":"cell"},
{"i":8.13,"rowc":3.5,"text":"0.09","s":"cell"},{"i":12.58,"rowc":3.5,"text":"N/A","s":"cell"},{"i":17.75,"rowc":3.5,"text":"0.0","s":"cell"},{"i":22.25,"rowc":3.5,"text":"N/A","s":"cell"},
{"i":8.13,"rowc":4.5,"text":"0.10","s":"cell"},{"i":12.58,"rowc":4.5,"text":"+266%","s":"gain"},{"i":17.75,"rowc":4.5,"text":"0.0","s":"cell"},{"i":22.25,"rowc":4.5,"text":"N/A","s":"cell"},
{"i":8.13,"rowc":5.5,"text":"0.05","s":"cell"},{"i":12.58,"rowc":5.5,"text":"-47%","s":"loss"},{"i":17.75,"rowc":5.5,"text":"0.0","s":"cell"},{"i":22.25,"rowc":5.5,"text":"N/A","s":"cell"},
{"i":8.13,"rowc":6.5,"text":"-0.15","s":"cell"},{"i":12.58,"rowc":6.5,"text":"-253%","s":"loss"},{"i":17.75,"rowc":6.5,"text":"0.0","s":"cell"},{"i":22.25,"rowc":6.5,"text":"N/A","s":"cell"},
{"i":8.13,"rowc":7.5,"text":"0.58","s":"cell"},{"i":12.58,"rowc":7.5,"text":"+521%","s":"gain"},{"i":17.75,"rowc":7.5,"text":"0.0","s":"cell"},{"i":22.25,"rowc":7.5,"text":"N/A","s":"cell"},
{"i":8.13,"rowc":8.5,"text":"-0.08","s":"cell"},{"i":12.58,"rowc":8.5,"text":"-182%","s":"loss"},{"i":17.75,"rowc":8.5,"text":"0.0","s":"cell"},{"i":22.25,"rowc":8.5,"text":"N/A","s":"cell"},
{"i":8.13,"rowc":9.5,"text":"-0.10","s":"cell"},{"i":12.58,"rowc":9.5,"text":"-302%","s":"loss"},{"i":17.75,"rowc":9.5,"text":"0.0","s":"cell"},{"i":22.25,"rowc":9.5,"text":"N/A","s":"cell"}]
},
"encoding":{
"x":{"field":"i","type":"quantitative","scale":{"domain":[-2.692,129.17],"nice":false,"zero":false,"padding":0},
"axis":{"orient":"bottom","title":null,"offset":-47,"domain":false,"ticks":false,"grid":false,"labelPadding":3,"labelFontSize":6.5,"labelColor":"#777777","labelOverlap":false,"labelFlush":false,
"values":[0,3,6,9,12,15,18,21,24,27,30,33,36,41,44,47,50,53,56,59,63,66,69,72,75,78,81,84,87,90,93,96,99,102,105,108,111,114,117,120,123],
"labelExpr":"({'0':'May','3':'6','6':'9','9':'14','12':'19','15':'22','18':'28','21':'Jun','24':'5','27':'10','30':'13','33':'18','36':'24','41':'Jul','44':'7','47':'10','50':'15','53':'18','56':'23','59':'28','63':'Aug','66':'6','69':'11','72':'14','75':'19','78':'22','81':'27','84':'Sep','87':'5','90':'10','93':'15','96':'18','99':'23','102':'26','105':'Oct','108':'6','111':'9','114':'14','117':'17','120':'22','123':'27'})[''+datum.value]",
"labelFontWeight":{"condition":{"test":"indexof([0,21,41,63,84,105],datum.value)>=0","value":"bold"},"value":"normal"}}},
"color":{"field":"s","type":"nominal","legend":null,"scale":{
"domain":["up","down","ema10","ema20","ema50","ema200","volma","note","head","muted","quote","onTag","stat","trend","entry","target","sold","bought","logo","earn","plain","shade","cell","gain","loss"],
"range":["#2233dd","#e030a8","#b87fd4","#7cc47f","#ef8a7c","#3a3a3a","#1c1c55","#111111","#333333","#5f5f5f","#d64bb5","#ffffff","#f5b468","#ee8080","#f3b26b","#ffb3b3","#ff3a12","#22dd22","#111111","#2a9d8f","#ffffff","#e8edf6","#5a5a5a","#3535cc","#e8403c"]}}
},
"resolve":{"scale":{"y":"independent"},"axis":{"y":"independent"}},
"layer":[
{
"encoding":{"y":{"field":"price","type":"quantitative","scale":{"domain":[-17.58,54.21],"nice":false,"zero":false},
"axis":{"orient":"right","title":null,"offset":-42,"domain":false,"ticks":false,"grid":false,"labelPadding":5,"labelFontSize":6.5,"labelColor":"#777777","format":".2f","labelFlush":false,"labelOverlap":false,"values":[2,4,6,8,10,12,14,16,18,20,22,24,26,28,30,32,34,36,38,40,42,44,46,48,50]}}},
"layer":[
{"data":{"name":"xticks"},"mark":{"type":"rule","strokeWidth":1},"encoding":{"y2":{"field":"price2"},"color":{"value":"#f3f3f5"}}},
{"data":{"name":"pticks"},"mark":{"type":"rule","strokeWidth":1},"encoding":{"x2":{"field":"i2"},"color":{"value":"#f3f3f5"}}},
{"data":{"values":[{"price":0.27,"i":-2.13,"i2":128.2}]},"mark":{"type":"rule","strokeWidth":1},"encoding":{"x2":{"field":"i2"},"color":{"value":"#ececec"}}},
{"data":{"values":[{"price":19.39,"i":-2.13,"i2":114}]},"mark":{"type":"rule","strokeWidth":1.5},"encoding":{"x2":{"field":"i2"},"color":{"value":"#f2adad"}}},
{"data":{"name":"segments"},"mark":{"type":"rule","strokeWidth":1},"encoding":{"x2":{"field":"i2"},"y2":{"field":"price2"}}},
{"data":{"name":"boxes"},"mark":{"type":"rect"},"encoding":{"x2":{"field":"i2"},"y2":{"field":"price2"}}},
{"data":{"name":"emas"},"mark":{"type":"line","strokeWidth":0.9,"interpolate":"linear"}},
{"data":{"name":"price"},"mark":{"type":"rule","strokeWidth":2.3},"encoding":{"y":{"field":"h","type":"quantitative"},"y2":{"field":"l"}}},
{"data":{"name":"price"},"mark":{"type":"tick","orient":"horizontal","size":4,"thickness":1.8,"xOffset":2},"encoding":{"y":{"field":"c","type":"quantitative"}}},
{"data":{"name":"polys"},"transform":[{"filter":"datum.s=='sold'"}],"mark":{"type":"line","fill":"#ff3a12","strokeWidth":0.5},"encoding":{"detail":{"field":"a"},"order":{"field":"n","type":"quantitative"}}},
{"data":{"name":"polys"},"transform":[{"filter":"datum.s=='bought'"}],"mark":{"type":"line","fill":"#22dd22","strokeWidth":0.5},"encoding":{"detail":{"field":"a"},"order":{"field":"n","type":"quantitative"}}},
{"data":{"name":"polys"},"transform":[{"filter":"datum.s=='logo'"}],"mark":{"type":"line","fill":"#111111","strokeWidth":0.5},"encoding":{"detail":{"field":"a"},"order":{"field":"n","type":"quantitative"}}},
{"data":{"name":"small"},"mark":{"type":"text","align":"left","baseline":"middle","fontSize":6.6},"encoding":{"text":{"field":"text"}}},
{"data":{"name":"stats"},"mark":{"type":"text","align":"left","baseline":"middle","fontSize":7.3},"encoding":{"text":{"field":"text"}}},
{"data":{"name":"statValues"},"mark":{"type":"text","align":"right","baseline":"middle","fontSize":7.3},"encoding":{"text":{"field":"text"}}},
{"data":{"name":"notes"},"mark":{"type":"text","align":"left","baseline":"middle","fontSize":7.8,"fontWeight":"bold"},"encoding":{"text":{"field":"text"}}},
{"data":{"values":[{"i":49.29,"price":40.4,"text":"Sold most into the strength","s":"sold"}]},"mark":{"type":"text","align":"left","baseline":"middle","fontSize":38.4,"font":"Liberation Sans"},"encoding":{"text":{"field":"text"}}},
{"data":{"values":[{"i":74.12,"price":26.59,"text":"Bought here","s":"note"}]},"mark":{"type":"text","align":"left","baseline":"middle","fontSize":35,"fontWeight":"bold","font":"Liberation Sans","stroke":"#000000","strokeWidth":6,"strokeJoin":"round"},"encoding":{"text":{"field":"text"},"color":{"value":"#000000"}}},
{"data":{"values":[{"i":74.12,"price":26.59,"text":"Bought here","s":"bought"}]},"mark":{"type":"text","align":"left","baseline":"middle","fontSize":35,"fontWeight":"bold","font":"Liberation Sans","stroke":"#22dd22","strokeWidth":0.8},"encoding":{"text":{"field":"text"}}},
{"data":{"values":[{"i":0.27,"price":-16.0,"text":"TradingView","s":"note"}]},"mark":{"type":"text","align":"left","baseline":"middle","fontSize":11.5,"fontWeight":500},"encoding":{"text":{"field":"text"}}},
{"data":{"values":[{"i":124.56,"price":52.75,"price2":-14.37}]},"mark":{"type":"rule","strokeWidth":1},"encoding":{"y2":{"field":"price2"},"color":{"value":"#8a8a8a"}}}
]},
{
"encoding":{"y":{"field":"v","type":"quantitative","scale":{"domain":[-25.42,349.77],"nice":false,"zero":false},
"axis":{"orient":"right","title":null,"offset":-42,"domain":false,"ticks":false,"grid":false,"labelPadding":5,"labelFontSize":6.5,"labelColor":"#777777","labelOverlap":false,"labelFlush":false,"values":[10,20,30,40,50,60],"labelExpr":"datum.value+' M'"}}},
"layer":[
{"data":{"name":"vticks"},"mark":{"type":"rule","strokeWidth":1},"encoding":{"x2":{"field":"i2"},"color":{"value":"#f3f3f5"}}},
{"data":{"name":"vol"},"mark":{"type":"bar","size":8}},
{"data":{"name":"volma"},"mark":{"type":"line","strokeWidth":1.2}},
{"data":{"values":[{"v":0,"i":-2.13,"i2":128.2}]},"mark":{"type":"rule","strokeWidth":1},"encoding":{"x2":{"field":"i2"},"color":{"value":"#9a9a9a"}}}
]},
{
"encoding":{"y":{"field":"rowc","type":"quantitative","axis":null,"scale":{"domain":[22.897,-27.651],"nice":false,"zero":false}}},
"layer":[
{"data":{"name":"tableRows"},"mark":{"type":"rect","stroke":"#555555","strokeWidth":1},"encoding":{"x2":{"field":"i2"},"y":{"field":"row","type":"quantitative"},"y2":{"field":"rowEnd"}}},
{"data":{"name":"tableCols"},"mark":{"type":"rule","strokeWidth":1},"encoding":{"y":{"field":"row","type":"quantitative"},"y2":{"field":"rowEnd"},"color":{"value":"#555555"}}},
{"data":{"name":"tableCenter"},"mark":{"type":"text","align":"center","baseline":"middle","fontSize":7.8},"encoding":{"text":{"field":"text"}}},
{"data":{"name":"tableRight"},"mark":{"type":"text","align":"right","baseline":"middle","fontSize":7.8},"encoding":{"text":{"field":"text"}}}
]},
{
"encoding":{"y":{"field":"price","type":"quantitative","axis":null,"scale":{"domain":[-17.58,54.21],"nice":false,"zero":false}}},
"layer":[
{"data":{"name":"badges"},"mark":{"type":"point","shape":"M-1,-0.5 L0,-1 L1,-0.5 L1,1 L-1,1 Z","size":90,"filled":true,"stroke":"#2a9d8f","strokeWidth":1},"encoding":{"color":{"value":"#ffffff"}}},
{"data":{"name":"badges"},"mark":{"type":"text","align":"center","baseline":"middle","fontSize":6,"fontWeight":"bold"},"encoding":{"text":{"field":"text"}}},
{"data":{"values":[{"i":114,"price":0.91,"s":"up"}]},"mark":{"type":"point","shape":"circle","size":120,"filled":false,"strokeWidth":1.2},"encoding":{"color":{"value":"#8e44ad"}}},
{"data":{"values":[{"i":114,"price":0.91,"text":"⚡","s":"up"}]},"mark":{"type":"text","align":"center","baseline":"middle","fontSize":9,"font":"DejaVu Sans"},"encoding":{"text":{"field":"text"},"color":{"value":"#8e44ad"}}}
]}
]
}
